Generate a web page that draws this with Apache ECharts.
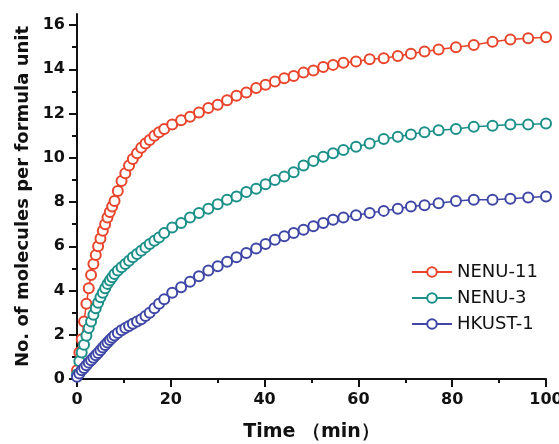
<!DOCTYPE html>
<html>
<head>
<meta charset="utf-8">
<script src="https://cdn.jsdelivr.net/npm/echarts@6/dist/echarts.min.js"></script>
<style>
  html, body { margin: 0; padding: 0; background: #fff; }
  #chart { width: 559px; height: 444px; }
</style>
</head>
<body>
<div id="chart"></div>
<script>
// sampling times (min), shared by the three curves
const times = [0, 0.5, 1, 1.5, 2, 2.5, 3, 3.5, 4, 4.5, 5, 5.5, 6, 6.5, 7, 7.5, 8,
  8.7, 9.5, 10.3, 11.1, 11.9, 12.8, 13.7, 14.6, 15.5, 16.5, 17.5, 18.6,
  20.3, 22.2, 24.1, 26, 28, 30, 32, 34, 36.1, 38.2, 40.2, 42.2, 44.2, 46.2, 48.3, 50.4,
  52.5, 54.6, 56.8, 59.5, 62.4, 65.4, 68.4, 71.2, 74.1, 77.1, 80.8, 84.6, 88.6, 92.4, 96.2, 100];

const nenu11 = [0.4, 1.2, 1.8, 2.6, 3.4, 4.1, 4.7, 5.2, 5.6, 6.0, 6.35, 6.7, 7.0, 7.3, 7.55, 7.8, 8.05,
  8.5, 8.95, 9.3, 9.65, 9.95, 10.2, 10.45, 10.65, 10.8, 11.0, 11.15, 11.3,
  11.5, 11.7, 11.85, 12.05, 12.25, 12.4, 12.6, 12.8, 12.95, 13.15, 13.3, 13.45, 13.6, 13.7, 13.85, 13.95,
  14.1, 14.2, 14.3, 14.35, 14.45, 14.5, 14.6, 14.7, 14.8, 14.9, 15.0, 15.1, 15.25, 15.35, 15.4, 15.45];

const nenu3 = [0.2, 0.8, 1.2, 1.55, 1.95, 2.3, 2.6, 2.9, 3.2, 3.45, 3.7, 3.9, 4.1, 4.3, 4.45, 4.6, 4.75,
  4.9, 5.05, 5.2, 5.35, 5.5, 5.65, 5.8, 5.95, 6.1, 6.25, 6.4, 6.6,
  6.85, 7.05, 7.3, 7.5, 7.7, 7.9, 8.1, 8.25, 8.45, 8.6, 8.8, 9.0, 9.15, 9.35, 9.65, 9.85,
  10.05, 10.2, 10.35, 10.5, 10.65, 10.85, 10.95, 11.05, 11.15, 11.25, 11.3, 11.4, 11.45, 11.5, 11.5, 11.55];

const hkust1 = [0.1, 0.25, 0.4, 0.5, 0.62, 0.74, 0.85, 0.96, 1.07, 1.18, 1.3, 1.42, 1.54, 1.65, 1.76, 1.87, 1.97,
  2.08, 2.2, 2.3, 2.4, 2.5, 2.6, 2.7, 2.85, 3.0, 3.2, 3.4, 3.6,
  3.9, 4.15, 4.4, 4.65, 4.9, 5.1, 5.3, 5.5, 5.7, 5.9, 6.1, 6.3, 6.45, 6.6, 6.75, 6.9,
  7.05, 7.2, 7.3, 7.4, 7.5, 7.6, 7.7, 7.8, 7.85, 7.95, 8.05, 8.1, 8.1, 8.15, 8.2, 8.25];

const yMajor = [0, 2, 4, 6, 8, 10, 12, 14, 16];
const yMinor = [1, 3, 5, 7, 9, 11, 13, 15];

const seriesNames = ['NENU-11', 'NENU-3', 'HKUST-1'];
const seriesColors = ['#e8452c', '#1c9089', '#3f47a6'];

function pairs(vals) {
  return times.map((t, i) => [t, vals[i]]);
}

function makeSeries(name, color, vals) {
  return {
    name: name,
    type: 'line',
    data: pairs(vals),
    symbol: 'emptyCircle',
    symbolSize: 10,
    clip: false,
    lineStyle: { color: color, width: 1.5 },
    itemStyle: { color: color, borderColor: color, borderWidth: 1.8 },
    emphasis: { disabled: true },
    animation: false
  };
}

const axisFont = { fontFamily: 'DejaVu Sans', fontWeight: 'bold', fontSize: 16, color: '#111' };
const black = { color: '#111', width: 2 };

const myChart = echarts.init(document.getElementById('chart'));
myChart.setOption({
  backgroundColor: '#fff',
  animation: false,
  grid: { left: 77, right: 13, top: 14, bottom: 65, outerBoundsMode: 'none', containLabel: false },
  legend: {
    orient: 'vertical',
    left: 406,
    top: 258,
    itemWidth: 40,
    itemHeight: 12,
    itemGap: 8,
    textStyle: { fontFamily: 'DejaVu Sans', fontSize: 18, color: '#111' },
    data: seriesNames
  },
  xAxis: {
    type: 'value',
    min: 0,
    max: 100,
    interval: 20,
    name: 'Time （min）',
    nameLocation: 'middle',
    nameGap: 44,
    nameTextStyle: { fontFamily: 'DejaVu Sans', fontWeight: 'bold', fontSize: 19, color: '#111' },
    axisLine: { onZero: false, lineStyle: black },
    axisTick: { length: 8, lineStyle: black },
    minorTick: { show: true, splitNumber: 2, length: 4, lineStyle: black },
    axisLabel: Object.assign({ margin: 13 }, axisFont),
    splitLine: { show: false }
  },
  yAxis: [{
    type: 'value',
    min: 0,
    max: 16.5,
    name: 'No. of molecules per formula unit',
    nameLocation: 'middle',
    nameGap: 42,
    nameTextStyle: { fontFamily: 'DejaVu Sans', fontWeight: 'bold', fontSize: 18, color: '#111' },
    axisLine: { show: true, onZero: false, lineStyle: black },
    axisTick: { show: true, length: 8, lineStyle: black, customValues: yMajor },
    axisLabel: Object.assign({ margin: 12, customValues: yMajor }, axisFont),
    splitLine: { show: false }
  }, {
    // second axis only for the short odd ticks
    type: 'value',
    position: 'left',
    min: 0,
    max: 16.5,
    axisLine: { show: false },
    axisTick: { show: true, length: 5, lineStyle: black, customValues: yMinor },
    axisLabel: { show: false },
    splitLine: { show: false }
  }],
  series: [
    makeSeries(seriesNames[0], seriesColors[0], nenu11),
    makeSeries(seriesNames[1], seriesColors[1], nenu3),
    makeSeries(seriesNames[2], seriesColors[2], hkust1)
  ]
});
</script>
</body>
</html>
